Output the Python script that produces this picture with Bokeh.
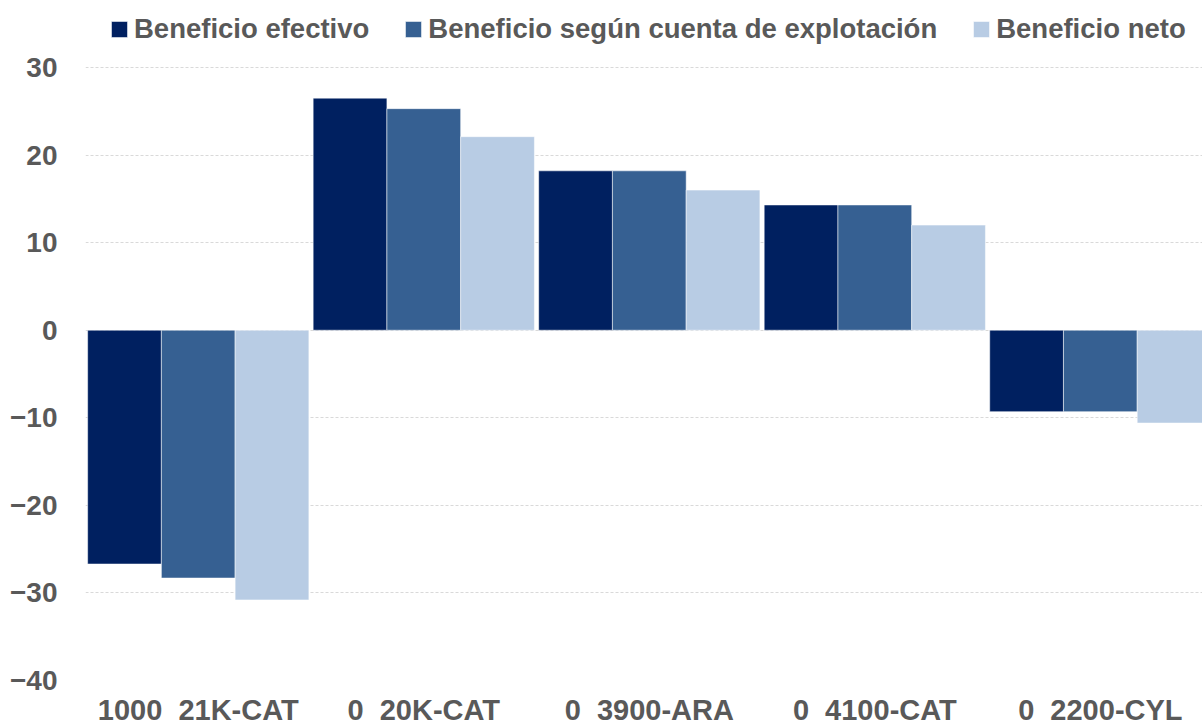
from bokeh.plotting import figure
from bokeh.models import Range1d, FixedTicker, Legend, LegendItem, ColumnDataSource
from bokeh.transform import dodge
from bokeh.embed import file_html
from bokeh.resources import INLINE

NB = "\u00a0\u00a0"
categories = ["1000" + NB + "21K-CAT", "0" + NB + "20K-CAT", "0" + NB + "3900-ARA",
              "0" + NB + "4100-CAT", "0" + NB + "2200-CYL"]
series_names = ["Beneficio efectivo", "Beneficio según cuenta de explotación", "Beneficio neto"]
beneficio_efectivo = [-26.7, 26.5, 18.2, 14.3, -9.3]
beneficio_cuenta = [-28.3, 25.3, 18.2, 14.3, -9.3]
beneficio_neto = [-30.8, 22.1, 16.0, 12.0, -10.6]
y_ticks = [-40, -30, -20, -10, 0, 10, 20, 30]
colors = ["#002060", "#366092", "#B8CCE4"]

idx = list(range(len(categories)))
source = ColumnDataSource(data=dict(
    x=idx,
    efectivo=beneficio_efectivo,
    cuenta=beneficio_cuenta,
    neto=beneficio_neto,
))

p = figure(width=1202, height=728, output_backend="svg", toolbar_location=None,
           x_range=Range1d(-0.5, 4.453), y_range=Range1d(-40, 37.65),
           min_border_left=85, min_border_right=0, min_border_top=0, min_border_bottom=48)

bw = 0.327
fields = ["efectivo", "cuenta", "neto"]
offsets = [-bw, 0, bw]
renderers = []
for f, off, c in zip(fields, offsets, colors):
    r = p.vbar(x=dodge("x", off, range=p.x_range), top=f, bottom=0, width=bw, source=source,
               fill_color=c, line_color="white", line_width=1, line_alpha=0.5)
    renderers.append(r)

label_color = "#595959"
font = "Liberation Sans"

p.outline_line_color = None
p.xgrid.grid_line_color = None
p.ygrid.grid_line_color = "#d9d9d9"
p.ygrid.grid_line_dash = "3 2"
p.ygrid.grid_line_width = 1
p.ygrid.ticker = FixedTicker(ticks=y_ticks)

p.yaxis.ticker = FixedTicker(ticks=y_ticks)
p.yaxis.axis_line_color = None
p.yaxis.major_tick_line_color = None
p.yaxis.minor_tick_line_color = None
p.yaxis.major_tick_out = 0
p.yaxis.major_tick_in = 0
p.yaxis.major_label_standoff = 28
p.yaxis.major_label_text_font = font
p.yaxis.major_label_text_font_style = "bold"
p.yaxis.major_label_text_font_size = "28px"
p.yaxis.major_label_text_color = label_color

p.xaxis.ticker = FixedTicker(ticks=idx)
p.xaxis.major_label_overrides = {i: c for i, c in zip(idx, categories)}
p.xaxis.axis_line_color = None
p.xaxis.major_tick_line_color = None
p.xaxis.minor_tick_line_color = None
p.xaxis.major_tick_out = 0
p.xaxis.major_tick_in = 0
p.xaxis.major_label_standoff = 13
p.xaxis.major_label_text_font = font
p.xaxis.major_label_text_font_style = "bold"
p.xaxis.major_label_text_font_size = "29px"
p.xaxis.major_label_text_color = label_color

legend = Legend(items=[LegendItem(label=n, renderers=[r]) for n, r in zip(series_names, renderers)],
                orientation="horizontal", location=(24, 635),
                glyph_width=20, glyph_height=20, label_standoff=5, spacing=34,
                padding=0, margin=0, label_height=30,
                label_text_font=font, label_text_font_style="bold",
                label_text_font_size="27.5px", label_text_color=label_color,
                background_fill_alpha=0, border_line_alpha=0)
p.add_layout(legend, "center")

open("out.html", "w").write(file_html(p, INLINE))
